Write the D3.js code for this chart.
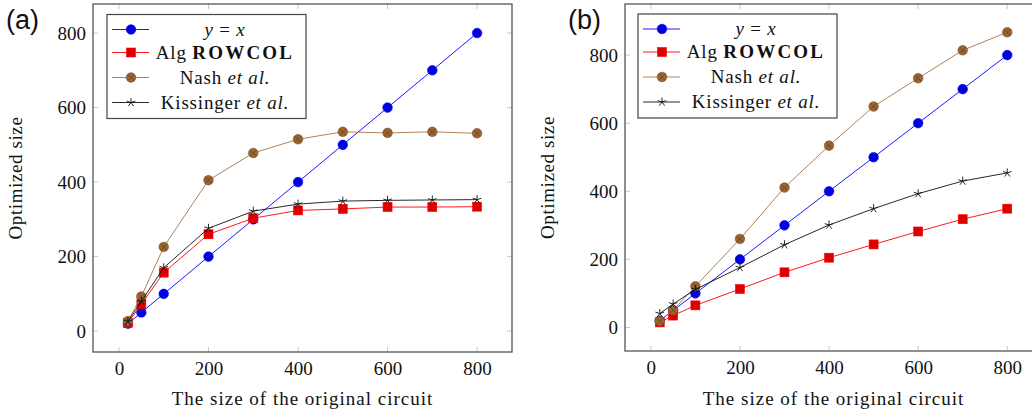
<!DOCTYPE html>
<html>
<head>
<meta charset="utf-8">
<script src="https://cdn.jsdelivr.net/npm/d3@7"></script>
<style>
  body { margin: 0; background: #fff; }
  svg text { font-family: "Liberation Serif", "Times New Roman", serif; fill: #111; }
</style>
</head>
<body>
<svg width="1032" height="411"></svg>
<script>
var sizes = [20, 50, 100, 200, 300, 400, 500, 600, 700, 800];
var xTicks = [0, 200, 400, 600, 800];
var yTicks = [0, 200, 400, 600, 800];
var legendNames = ["y = x", "Alg ROWCOL", "Nash et al.", "Kissinger et al."];

// panel (a)
var identityA  = [20, 50, 100, 200, 300, 400, 500, 600, 700, 800];
var rowcolA    = [22, 72, 157, 260, 303, 324, 328, 333, 333, 334];
var nashA      = [27, 93, 226, 405, 478, 515, 535, 532, 535, 531];
var kissingerA = [26, 80, 170, 276, 322, 341, 349, 351, 352, 353];

// panel (b)
var identityB  = [20, 50, 100, 200, 300, 400, 500, 600, 700, 800];
var rowcolB    = [15, 35, 65, 113, 162, 205, 244, 282, 318, 349];
var nashB      = [19, 51, 121, 260, 411, 534, 649, 732, 814, 867];
var kissingerB = [41, 69, 112, 176, 243, 301, 349, 393, 430, 454];

var svg = d3.select("svg");

var styles = [
  {line: "#0000ff", fill: "#0000dd", stroke: "#0000ff", mark: "circle"},
  {line: "#ff0000", fill: "#dd0000", stroke: "#ff0000", mark: "square"},
  {line: "#a87446", fill: "#9a6433", stroke: "#7c4f26", mark: "otimes"},
  {line: "#111111", fill: "none", stroke: "#111111", mark: "star"}
];

function drawMark(g, kind, st, x, y) {
  if (kind == "circle") {
    g.append("circle").attr("cx", x).attr("cy", y).attr("r", 4.8)
      .attr("fill", st.fill).attr("stroke", st.stroke).attr("stroke-width", 0.6);
  } else if (kind == "square") {
    g.append("rect").attr("x", x - 4.5).attr("y", y - 4.5).attr("width", 9).attr("height", 9)
      .attr("fill", st.fill).attr("stroke", st.stroke).attr("stroke-width", 0.6);
  } else if (kind == "otimes") {
    g.append("circle").attr("cx", x).attr("cy", y).attr("r", 4.8)
      .attr("fill", st.fill).attr("stroke", st.stroke).attr("stroke-width", 0.6);
    var d = 3.3;
    g.append("path")
      .attr("d", "M" + (x - d) + "," + (y - d) + "L" + (x + d) + "," + (y + d) +
                 "M" + (x - d) + "," + (y + d) + "L" + (x + d) + "," + (y - d))
      .attr("stroke", "#5a3a1a").attr("stroke-width", 0.6);
  } else {
    var p = "";
    for (var k = 0; k < 5; k++) {
      var a = -Math.PI / 2 + k * 2 * Math.PI / 5;
      p += "M" + x + "," + y + "L" + (x + 4.5 * Math.cos(a)) + "," + (y + 4.5 * Math.sin(a));
    }
    g.append("path").attr("d", p).attr("stroke", st.stroke).attr("stroke-width", 0.9);
  }
}

function drawPanel(opts) {
  var x = d3.scaleLinear().domain(opts.xDomain).range(opts.xRange);
  var y = d3.scaleLinear().domain(opts.yDomain).range(opts.yRange);
  var g = svg.append("g");
  var x0 = opts.xRange[0], x1 = opts.xRange[1], y0 = opts.yRange[1], y1 = opts.yRange[0];

  // inner tick marks
  xTicks.forEach(function (t) {
    g.append("line").attr("x1", x(t)).attr("x2", x(t)).attr("y1", y1).attr("y2", y1 - 5)
      .attr("stroke", "#c8c8c8");
    g.append("line").attr("x1", x(t)).attr("x2", x(t)).attr("y1", y0).attr("y2", y0 + 5)
      .attr("stroke", "#c8c8c8");
  });
  yTicks.forEach(function (t) {
    g.append("line").attr("x1", x0).attr("x2", x0 + 5).attr("y1", y(t)).attr("y2", y(t))
      .attr("stroke", "#c8c8c8");
    g.append("line").attr("x1", x1).attr("x2", x1 - 5).attr("y1", y(t)).attr("y2", y(t))
      .attr("stroke", "#c8c8c8");
  });

  // axes (labels only, pgfplots style)
  var ax = g.append("g").attr("transform", "translate(0," + y1 + ")")
    .call(d3.axisBottom(x).tickValues(xTicks).tickSize(0).tickPadding(10));
  ax.select(".domain").remove();
  ax.selectAll("text").attr("font-size", 19).attr("font-family", "Liberation Serif").attr("fill", "#111");

  var ay = g.append("g").attr("transform", "translate(" + x0 + ",0)")
    .call(d3.axisLeft(y).tickValues(yTicks).tickSize(0).tickPadding(7));
  ay.select(".domain").remove();
  ay.selectAll("text").attr("font-size", 19).attr("font-family", "Liberation Serif").attr("fill", "#111");

  // frame
  g.append("rect").attr("x", x0).attr("y", y0).attr("width", x1 - x0).attr("height", y1 - y0)
    .attr("fill", "none").attr("stroke", "#555").attr("stroke-width", 1.3);

  // series
  var line = d3.line().x(function (d) { return x(d[0]); }).y(function (d) { return y(d[1]); });
  opts.series.forEach(function (vals, i) {
    var st = styles[i];
    var pts = sizes.map(function (s, j) { return [s, vals[j]]; });
    var sg = g.append("g");
    sg.append("path").datum(pts).attr("d", line).attr("fill", "none")
      .attr("stroke", st.line).attr("stroke-width", 0.9);
    pts.forEach(function (d) { drawMark(sg, st.mark, st, x(d[0]), y(d[1])); });
  });

  // legend
  var lx = opts.legend[0], ly = opts.legend[1];
  var lg = g.append("g").attr("transform", "translate(" + lx + "," + ly + ")");
  lg.append("rect").attr("width", 199).attr("height", 104).attr("fill", "#fff")
    .attr("stroke", "#444").attr("stroke-width", 1.2);
  var rows = [15, 38, 63, 88];
  legendNames.forEach(function (name, i) {
    var st = styles[i];
    var ry = rows[i];
    lg.append("line").attr("x1", 5).attr("x2", 42).attr("y1", ry).attr("y2", ry)
      .attr("stroke", st.line).attr("stroke-width", 0.9);
    drawMark(lg, st.mark, st, 24, ry);
    var t = lg.append("text").attr("x", 118).attr("y", ry).attr("dy", "0.33em")
      .attr("text-anchor", "middle").attr("font-size", 19).style("letter-spacing", "0.8px");
    if (i == 0) {
      t.append("tspan").attr("font-style", "italic").text("y");
      t.append("tspan").text(" = ");
      t.append("tspan").attr("font-style", "italic").text("x");
    } else if (i == 1) {
      t.append("tspan").text("Alg ");
      t.append("tspan").attr("font-weight", "bold").style("letter-spacing", "2.2px").text("ROWCOL");
    } else {
      var parts = name.split(" ");
      t.append("tspan").text(parts[0] + " ");
      t.append("tspan").attr("font-style", "italic").text("et al.");
    }
  });

  // axis titles
  svg.append("text").attr("x", (x0 + x1) / 2).attr("y", 405)
    .attr("text-anchor", "middle").attr("font-size", 19).style("letter-spacing", "1px")
    .text("The size of the original circuit");
  svg.append("text").attr("transform", "translate(" + opts.yLabelX + "," + ((y0 + y1) / 2) + ") rotate(-90)")
    .attr("text-anchor", "middle").attr("font-size", 19).style("letter-spacing", "0.6px")
    .text("Optimized size");

  // panel tag
  svg.append("text").attr("x", opts.tag[0]).attr("y", opts.tag[1])
    .style("font-family", "'Liberation Sans', Arial, sans-serif")
    .attr("font-size", 27).text(opts.tagText);
}

drawPanel({
  xDomain: [-58, 878], xRange: [93, 512],
  yDomain: [-56, 878], yRange: [352, 4],
  series: [identityA, rowcolA, nashA, kissingerA],
  legend: [107, 14.5], yLabelX: 22, tag: [6, 29], tagText: "(a)"
});

drawPanel({
  xDomain: [-58, 878], xRange: [625, 1042],
  yDomain: [-69, 950], yRange: [351, 4],
  series: [identityB, rowcolB, nashB, kissingerB],
  legend: [638, 14], yLabelX: 554, tag: [568, 29], tagText: "(b)"
});
</script>
</body>
</html>
